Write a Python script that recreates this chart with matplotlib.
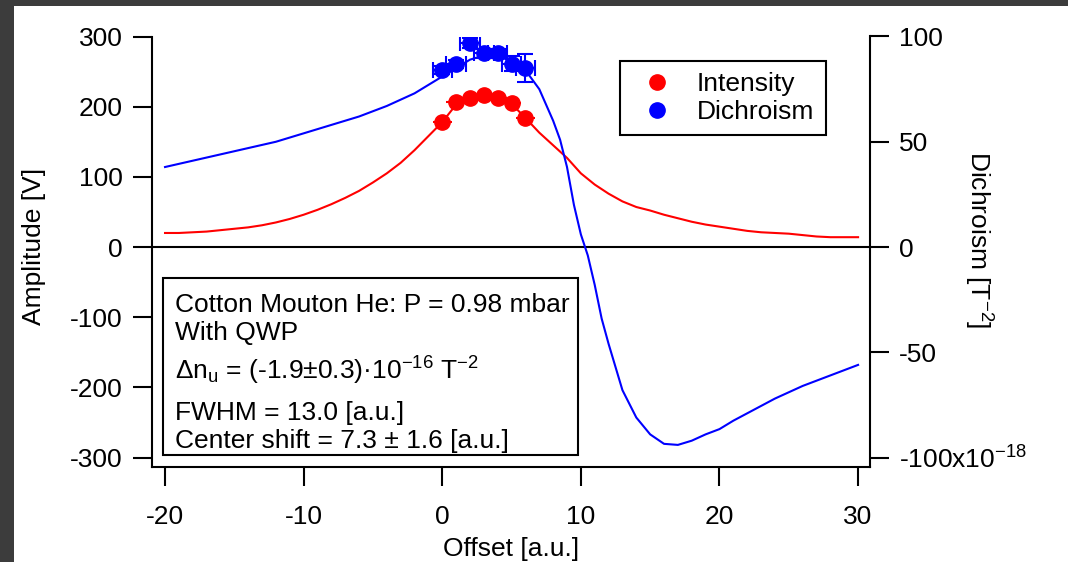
import numpy as np
import matplotlib
matplotlib.use("Agg")
import matplotlib.pyplot as plt
from matplotlib.patches import Rectangle
from matplotlib.lines import Line2D

plt.rcParams['font.family'] = ['Liberation Sans', 'DejaVu Sans']
plt.rcParams['mathtext.fontset'] = 'custom'
plt.rcParams['mathtext.rm'] = 'Liberation Sans'
plt.rcParams['mathtext.it'] = 'Liberation Sans:italic'
plt.rcParams['axes.unicode_minus'] = False

# intensity curve (left axis, V)
x_int = [-20, -19, -18, -17, -16, -15, -14, -13, -12, -11, -10, -9, -8, -7, -6, -5,
         -4, -3, -2, -1, 0, 1, 2, 3, 4, 5, 6, 7, 8, 9, 10, 11, 12, 13, 14, 15, 16,
         17, 18, 19, 20, 21, 22, 23, 24, 25, 26, 27, 28, 29, 30]
y_int = [20, 20, 21, 22, 24, 26, 28, 31, 35, 40, 46, 53, 61, 70, 80, 92,
         105, 120, 138, 158, 178, 203, 212, 215, 212, 204, 184, 163, 145, 127, 105, 89, 76, 65, 57, 52, 46,
         41, 36, 32, 29, 26, 23, 21, 20, 19, 17, 15, 14, 14, 14]

# dichroism curve (right axis, 1e-18 T^-2)
x_dic = [-20, -19, -18, -17, -16, -15, -14, -13, -12, -11, -10, -9, -8, -7, -6, -5,
         -4, -3, -2, -1, 0, 1, 2, 3, 4, 5, 6, 7, 8, 8.5, 9, 9.5, 10, 10.5, 11, 11.5, 12,
         13, 14, 15, 16, 17, 18, 19, 20, 21, 22, 23, 24, 25, 26, 27, 28, 29, 30]
y_dic = [38, 39.5, 41, 42.5, 44, 45.5, 47, 48.5, 50, 52, 54, 56, 58, 60, 62, 64.5,
         67, 70, 73, 77, 81, 85, 89, 91, 91, 88, 84, 75, 60, 51, 38, 20, 6, -4, -18, -34, -46,
         -68, -81, -89, -93.5, -94, -92, -89, -86.5, -82.5, -79, -75.5, -72, -69, -66, -63.5, -61, -58.5, -56]

# measured points
x_pts = [0, 1, 2, 3, 4, 5, 6]
int_pts = [178, 207, 212, 216, 213, 205, 184]
dic_pts = [84, 87, 97, 92, 92, 87, 85]
dic_err = [2, 2, 2.5, 2, 2, 3.5, 6.6]
x_err = 0.7

W, H = 1068, 562
FS = 19
fig = plt.figure(figsize=(W / 100, H / 100), dpi=100, facecolor='#3c3c3c')
fig.add_artist(Rectangle((14 / W, 0), 1, 1 - 6 / H, transform=fig.transFigure,
                         facecolor='white', edgecolor='none', zorder=0))

ax = fig.add_axes([152 / W, 1 - 467 / H, 718 / W, 430.5 / H])
ax2 = ax.twinx()

red, blue = '#ff0000', '#0000ff'

ax.plot(x_int, y_int, color=red, lw=1.5)
ax.errorbar(x_pts, int_pts, xerr=x_err, fmt='none', ecolor=red, elinewidth=1.5, capsize=0)
ax.plot(x_pts, int_pts, 'o', color=red, ms=11)
ax.axhline(0, color='black', lw=1.5)

ax2.plot(x_dic, y_dic, color=blue, lw=1.5)
ax2.errorbar(x_pts, dic_pts, xerr=x_err, yerr=dic_err, fmt='none', ecolor=blue,
             elinewidth=1.5, capsize=6, capthick=1.5)
ax2.plot(x_pts, dic_pts, 'o', color=blue, ms=11)

ax.set_xlim(-20.94, 30.86)
ax.set_ylim(-313.5, 300)
ax2.set_ylim(-104.5, 100)

ax.set_xticks([-20, -10, 0, 10, 20, 30])
ax.set_yticks([-300, -200, -100, 0, 100, 200, 300])
ax2.set_yticks([-100, -50, 0, 50, 100])
ax2.set_yticklabels(['-100x10$^{-18}$', '-50', '0', '50', '100'])

for a in (ax, ax2):
    a.spines['top'].set_visible(False)
    for s in a.spines.values():
        s.set_linewidth(1.5)
ax.spines['right'].set_visible(False)
ax2.spines['left'].set_visible(False)
ax2.spines['bottom'].set_visible(False)

ax.tick_params(direction='out', length=14, width=1.5, labelsize=FS, pad=7)
ax.tick_params(axis='x', pad=13)
ax2.tick_params(direction='out', length=14, width=1.5, labelsize=FS, pad=7)

ax.set_xlabel('Offset [a.u.]', fontsize=FS)
ax.xaxis.set_label_coords(0.5, -0.163)
ax.set_ylabel('Amplitude [V]', fontsize=FS)
ax.yaxis.set_label_coords(-0.148, 0.513)
ax2.set_ylabel('Dichroism [T$^{-2}$]', fontsize=FS, rotation=-90, va='center')
ax2.yaxis.set_label_coords(1.15, 0.527)

handles = [Line2D([], [], ls='none', marker='o', color=red, ms=11, label='Intensity'),
           Line2D([], [], ls='none', marker='o', color=blue, ms=11, label='Dichroism')]
leg = ax2.legend(handles=handles, loc='upper left', bbox_to_anchor=(620 / W, 1 - 61 / H),
                 bbox_transform=fig.transFigure, fontsize=FS, frameon=True, fancybox=False,
                 edgecolor='black', framealpha=1, borderpad=0.42, labelspacing=0.15,
                 handlelength=2.0, handletextpad=0.5, borderaxespad=0)
leg.get_frame().set_linewidth(1.5)

# annotation box
fig.add_artist(Rectangle((163 / W, 1 - 455 / H), 415 / W, 177 / H, transform=fig.transFigure,
                         facecolor='white', edgecolor='black', lw=1.5, zorder=5))
lines = ['Cotton Mouton He: P = 0.98 mbar',
         'With QWP',
         r'$\Delta$n$_\mathrm{u}$ = (-1.9±0.3)·10$^{-16}$ T$^{-2}$',
         'FWHM = 13.0 [a.u.]',
         'Center shift = 7.3 ± 1.6 [a.u.]']
baselines = [312, 340, 380, 420, 448]
for txt, yb in zip(lines, baselines):
    fig.text(175 / W, 1 - yb / H, txt, fontsize=FS, va='baseline', ha='left', zorder=6)

fig.savefig('out.png', dpi=100, facecolor=fig.get_facecolor())
